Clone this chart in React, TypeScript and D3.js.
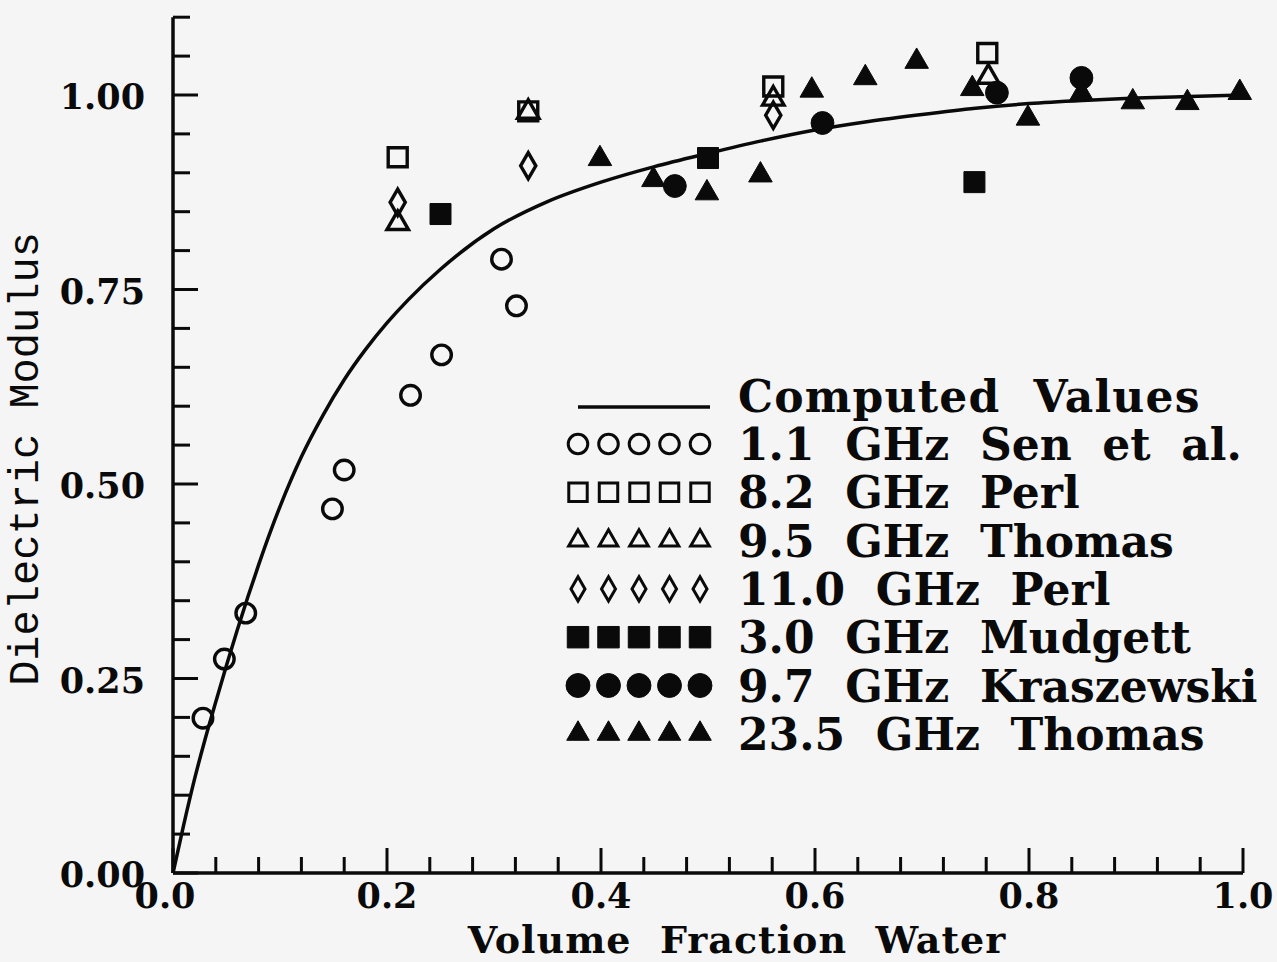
import React from 'react';
import * as d3 from 'd3';

const W = 1277;
const H = 962;
const BG = '#f5f5f5';
const INK = '#0a0a0a';

// computed curve
const curveX = [0, 0.01, 0.02, 0.03, 0.04, 0.05, 0.06, 0.07, 0.08, 0.09, 0.10, 0.12, 0.14, 0.16, 0.18, 0.20, 0.22, 0.25, 0.30, 0.35, 0.40, 0.45, 0.50, 0.55, 0.60, 0.65, 0.70, 0.75, 0.80, 0.85, 0.90, 0.95, 1.00];
const curveY = [0, 0.062, 0.12, 0.172, 0.22, 0.267, 0.312, 0.355, 0.396, 0.435, 0.471, 0.535, 0.588, 0.634, 0.673, 0.707, 0.737, 0.776, 0.828, 0.863, 0.888, 0.908, 0.925, 0.941, 0.955, 0.966, 0.975, 0.983, 0.989, 0.993, 0.996, 0.998, 1.0];

// measured points
const sen11 = [[0.028, 0.199], [0.048, 0.275], [0.068, 0.334], [0.149, 0.468], [0.160, 0.518], [0.222, 0.614], [0.251, 0.666], [0.307, 0.789], [0.321, 0.729]];
const perl82 = [[0.21, 0.92], [0.332, 0.979], [0.561, 1.011], [0.761, 1.054]];
const thomas95 = [[0.21, 0.835], [0.332, 0.978], [0.561, 0.995], [0.762, 1.023]];
const perl110 = [[0.21, 0.862], [0.332, 0.909], [0.561, 0.974]];
const mudgett30 = [[0.25, 0.847], [0.5, 0.919], [0.749, 0.888]];
const kraszewski97 = [[0.469, 0.883], [0.607, 0.964], [0.77, 1.003], [0.849, 1.022]];
const thomas235 = [[0.399, 0.918], [0.449, 0.891], [0.499, 0.874], [0.549, 0.897], [0.597, 1.006], [0.647, 1.022], [0.695, 1.043], [0.747, 1.008], [0.799, 0.970], [0.849, 1.002], [0.897, 0.991], [0.948, 0.990], [0.997, 1.003]];

const xTickValues = [0, 0.2, 0.4, 0.6, 0.8, 1.0];
const xTickLabels = ['0.0', '0.2', '0.4', '0.6', '0.8', '1.0'];
const yTickValues = [0, 0.25, 0.5, 0.75, 1.0];
const yTickLabels = ['0.00', '0.25', '0.50', '0.75', '1.00'];

const legendLabels = [
  '1.1  GHz  Sen  et  al.',
  '8.2  GHz  Perl',
  '9.5  GHz  Thomas',
  '11.0  GHz  Perl',
  '3.0  GHz  Mudgett',
  '9.7  GHz  Kraszewski',
  '23.5  GHz  Thomas',
];

export default function App() {
  const x = d3.scaleLinear().domain([0, 1]).range([173, 1243]);
  const y = d3.scaleLinear().domain([0, 1]).range([873, 95]);

  const line = d3.line<number>().x((d, i) => x(curveX[i])).y((d, i) => y(curveY[i])).curve(d3.curveMonotoneX);

  const xMinor = d3.range(0, 1.0001, 0.04);
  const yMinor = d3.range(0, 1.1001, 0.05);

  // marker styles: [symbol type, size, filled]
  const styles: [any, number, boolean][] = [
    [d3.symbolCircle, 300, false],
    [d3.symbolSquare, 361, false],
    [d3.symbolTriangle, 200, false],
    [d3.symbolDiamond, 200, false],
    [d3.symbolSquare, 441, true],
    [d3.symbolCircle, 410, true],
    [d3.symbolTriangle, 240, true],
  ];
  const legendStyles: [any, number, boolean][] = [
    [d3.symbolCircle, 300, false],
    [d3.symbolSquare, 340, false],
    [d3.symbolTriangle, 150, false],
    [d3.symbolDiamond, 170, false],
    [d3.symbolSquare, 460, true],
    [d3.symbolCircle, 450, true],
    [d3.symbolTriangle, 220, true],
  ];
  const series = [sen11, perl82, thomas95, perl110, mudgett30, kraszewski97, thomas235];

  const mark = (st: [any, number, boolean]) => d3.symbol().type(st[0]).size(st[1])() as string;

  const font = "'DejaVu Serif', serif";

  return (
    <svg width={W} height={H} style={{ position: 'absolute', left: 0, top: 0, background: BG }}>
      <rect width={W} height={H} fill={BG} />

      {/* y axis */}
      <line x1={x(0)} x2={x(0)} y1={y(0)} y2={y(1.1)} stroke={INK} strokeWidth={3.5} />
      {yMinor.map((v, i) => {
        const major = i % 5 === 0;
        return <line key={'yt' + i} x1={x(0)} x2={x(0) + (major ? 25 : 17)} y1={y(v)} y2={y(v)} stroke={INK} strokeWidth={3} />;
      })}
      {yTickValues.map((v, i) => (
        <text key={'yl' + i} x={145} y={y(v) + 14} textAnchor="end" fontFamily={font} fontWeight="bold" fontSize={35} fill={INK}>{yTickLabels[i]}</text>
      ))}

      {/* x axis */}
      <line x1={x(0)} x2={x(1)} y1={y(0)} y2={y(0)} stroke={INK} strokeWidth={3.5} />
      {xMinor.map((v, i) => {
        const major = i % 5 === 0;
        return <line key={'xt' + i} x1={x(v)} x2={x(v)} y1={y(0)} y2={y(0) - (major ? 25 : 16)} stroke={INK} strokeWidth={3} />;
      })}
      {xTickValues.map((v, i) => (
        <text key={'xl' + i} x={x(v) - (i === 0 ? 8 : 0)} y={908} textAnchor="middle" fontFamily={font} fontWeight="bold" fontSize={35} fill={INK}>{xTickLabels[i]}</text>
      ))}

      <text x={737} y={953} textAnchor="middle" fontFamily={font} fontWeight="bold" fontSize={38} letterSpacing={1} fill={INK} style={{ whiteSpace: 'pre' }}>{'Volume  Fraction  Water'}</text>
      <text transform="translate(38,459) rotate(-90)" textAnchor="middle" fontFamily="'Liberation Mono', monospace" fontSize={42} fill={INK}>Dielectric Modulus</text>

      {/* computed curve */}
      <path d={line(curveX) || ''} fill="none" stroke={INK} strokeWidth={3.5} />

      {/* points */}
      {series.map((s, si) => (
        <g key={'s' + si}>
          {s.map((p, pi) => (
            <path key={pi} d={mark(styles[si])} transform={`translate(${x(p[0])},${y(p[1])})`}
              fill={styles[si][2] ? INK : 'none'} stroke={INK} strokeWidth={styles[si][2] ? 1 : 3.4} />
          ))}
        </g>
      ))}

      {/* legend */}
      <line x1={578} x2={710} y1={407} y2={407} stroke={INK} strokeWidth={3.5} />
      <text x={738} y={412} fontFamily={font} fontWeight="bold" fontSize={44} letterSpacing={1.2} fill={INK} style={{ whiteSpace: 'pre' }}>{'Computed  Values'}</text>
      {legendLabels.map((lab, i) => {
        const cy = 444 + i * 48.3;
        return (
          <g key={'lg' + i}>
            {d3.range(5).map(k => (
              <path key={k} d={mark(legendStyles[i])} transform={`translate(${578 + k * 30.5},${cy})`}
                fill={legendStyles[i][2] ? INK : 'none'} stroke={INK} strokeWidth={legendStyles[i][2] ? 1 : 3} />
            ))}
            <text x={738} y={cy + 16} fontFamily={font} fontWeight="bold" fontSize={44} fill={INK} style={{ whiteSpace: 'pre' }}>{lab}</text>
          </g>
        );
      })}
    </svg>
  );
}
